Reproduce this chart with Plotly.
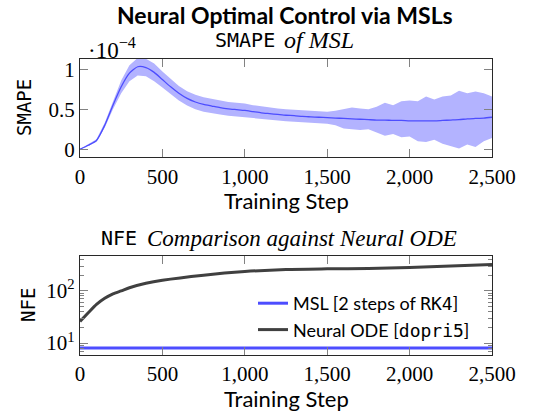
import plotly.graph_objects as go

# ---------------- data ----------------
steps = [0, 50, 100, 150, 200, 250, 300, 350, 400, 450, 500, 550, 600, 650, 700, 750,
         800, 850, 900, 950, 1000, 1050, 1100, 1150, 1200, 1250, 1300, 1350, 1400, 1450,
         1500, 1550, 1600, 1650, 1700, 1750, 1800, 1850, 1900, 1950, 2000, 2050, 2100,
         2150, 2200, 2250, 2300, 2350, 2400, 2450, 2500]
smape_mean = [0.0, 0.05, 0.11, 0.30, 0.55, 0.78, 0.95, 1.03, 1.02, 0.96, 0.87, 0.78, 0.70,
              0.635, 0.59, 0.56, 0.54, 0.52, 0.505, 0.495, 0.485, 0.47, 0.455, 0.445, 0.435,
              0.425, 0.42, 0.41, 0.405, 0.40, 0.395, 0.39, 0.385, 0.38, 0.375, 0.37, 0.365,
              0.365, 0.36, 0.36, 0.355, 0.355, 0.355, 0.355, 0.36, 0.365, 0.37, 0.38, 0.385,
              0.39, 0.40]
smape_upper = [0.004, 0.06, 0.125, 0.33, 0.60, 0.86, 1.05, 1.14, 1.13, 1.07, 0.97, 0.875,
               0.79, 0.725, 0.68, 0.65, 0.63, 0.605, 0.59, 0.58, 0.57, 0.55, 0.535, 0.525,
               0.51, 0.50, 0.495, 0.485, 0.48, 0.475, 0.47, 0.48, 0.50, 0.52, 0.51, 0.50,
               0.53, 0.58, 0.55, 0.60, 0.61, 0.60, 0.66, 0.62, 0.66, 0.67, 0.73, 0.70, 0.72,
               0.70, 0.66]
smape_lower = [-0.004, 0.04, 0.095, 0.27, 0.50, 0.70, 0.85, 0.92, 0.91, 0.85, 0.77, 0.685,
               0.61, 0.545, 0.50, 0.47, 0.45, 0.435, 0.42, 0.41, 0.40, 0.39, 0.375, 0.365,
               0.36, 0.35, 0.345, 0.335, 0.33, 0.325, 0.32, 0.30, 0.26, 0.25, 0.24, 0.25,
               0.21, 0.17, 0.19, 0.15, 0.16, 0.10, 0.09, 0.12, 0.07, 0.04, 0.01, 0.06, 0.03,
               0.10, 0.14]

nfe_steps = [0, 50, 100, 150, 200, 250, 300, 400, 500, 750, 1000, 1250, 1500, 1750, 2000,
             2250, 2500]
nfe_node = [26, 38, 55, 72, 88, 100, 115, 140, 160, 200, 235, 258, 265, 270, 280, 300, 320]
nfe_msl = [8] * len(nfe_steps)

x_ticks = [0, 500, 1000, 1500, 2000, 2500]
x_tick_text = ["0", "500", "1,000", "1,500", "2,000", "2,500"]
y1_ticks = [0, 0.5, 1]
y1_tick_text = ["0", "0.5", "1"]

# ---------------- style ----------------
BLUE = "rgb(77,77,255)"
BAND = "rgb(179,179,255)"
GREY = "rgb(64,64,64)"
SERIF = "Liberation Serif"
SANS = "Lato"
MONO = "DejaVu Sans Mono"
FRAME = "rgb(40,40,40)"
TICKC = "rgb(130,130,130)"


def mono(t):
    return "<span style=\"font-family:DejaVu Sans Mono\">%s</span>" % t


fig = go.Figure()

fig.add_trace(go.Scatter(x=steps, y=smape_upper, mode="lines", line=dict(width=0, color=BAND),
                         hoverinfo="skip", showlegend=False, xaxis="x", yaxis="y"))
fig.add_trace(go.Scatter(x=steps, y=smape_lower, mode="lines", line=dict(width=0, color=BAND),
                         fill="tonexty", fillcolor=BAND, hoverinfo="skip", showlegend=False,
                         xaxis="x", yaxis="y"))
fig.add_trace(go.Scatter(x=steps, y=smape_mean, mode="lines",
                         line=dict(width=1.3, color=BLUE, shape="spline", smoothing=0.6),
                         showlegend=False, xaxis="x", yaxis="y"))

fig.add_trace(go.Scatter(x=nfe_steps, y=nfe_msl, mode="lines", line=dict(width=3, color=BLUE),
                         name="MSL [2 steps of " + mono("RK4") + "]",
                         xaxis="x2", yaxis="y2"))
fig.add_trace(go.Scatter(x=nfe_steps, y=nfe_node, mode="lines",
                         line=dict(width=3, color=GREY, shape="spline", smoothing=0.6),
                         name="Neural ODE [" + mono("dopri5") + "]",
                         xaxis="x2", yaxis="y2"))

xdom = [80 / 543, 492 / 543]
common_x = dict(range=[0, 2500], tickvals=x_ticks, ticktext=x_tick_text, ticks="inside",
                ticklen=8, tickcolor=TICKC, showline=True, linecolor=FRAME, linewidth=1.2,
                mirror="allticks", showgrid=False, zeroline=False, automargin=False,
                tickfont=dict(family=SERIF, size=21, color="black"), domain=xdom)


def ann(text, x, y, font, **kw):
    return dict(text=text, x=x / 543, y=1 - y / 414, xref="paper", yref="paper",
                xanchor=kw.pop("xanchor", "center"), yanchor="middle", showarrow=False,
                font=font, **kw)


black = "black"
fig.update_layout(
    width=543, height=414, margin=dict(l=0, r=0, t=0, b=0, autoexpand=False),
    plot_bgcolor="white", paper_bgcolor="white",
    showlegend=True,
    xaxis=dict(common_x, anchor="y"),
    yaxis=dict(domain=[1 - 157.3 / 414, 1 - 58.5 / 414], range=[-0.1, 1.133], tickvals=y1_ticks,
               ticktext=y1_tick_text, ticks="inside", ticklen=8, tickcolor=TICKC, showline=True,
               linecolor=FRAME, linewidth=1.2, mirror="allticks", showgrid=False, zeroline=False,
               automargin=False,
               tickfont=dict(family=SERIF, size=21, color=black), anchor="x"),
    xaxis2=dict(common_x, anchor="y2"),
    yaxis2=dict(domain=[1 - 355 / 414, 1 - 256 / 414], type="log", range=[0.77, 2.67],
                tickvals=[10, 100], ticktext=["10<sup>1</sup>", "10<sup>2</sup>"],
                ticks="inside", ticklen=8, tickcolor=TICKC, showline=True, linecolor=FRAME,
                linewidth=1.2, mirror="allticks", showgrid=False, zeroline=False, automargin=False,
                minor=dict(ticks="inside", ticklen=4, tickcolor=TICKC,
                           tickvals=[6, 7, 8, 9, 20, 30, 40, 50, 60, 70, 80, 90, 200, 300, 400]),
                tickfont=dict(family=SERIF, size=21, color=black), anchor="x2"),
    legend=dict(x=475 / 543, xanchor="right", y=1 - 285 / 414, yanchor="top",
                bgcolor="rgba(0,0,0,0)", font=dict(family=SANS, size=18, color=black),
                traceorder="normal", tracegroupgap=0),
    annotations=[
        ann("<b>Neural Optimal Control via MSLs</b>", 285, 15,
            dict(family=SANS, size=23, color=black)),
        ann("SMAPE", 277, 40, dict(family=MONO, size=20, color=black), xanchor="right"),
        ann("<i>of MSL</i>", 282, 40, dict(family=SERIF, size=24, color=black), xanchor="left"),
        ann("NFE", 139, 238, dict(family=MONO, size=20, color=black), xanchor="right"),
        ann("<i>Comparison against Neural ODE</i>", 145, 238,
            dict(family=SERIF, size=23, color=black), xanchor="left"),
        ann("·10<sup>−4</sup>", 86, 49, dict(family=SERIF, size=23, color=black), xanchor="left"),
        ann("Training Step", 286, 201, dict(family=SANS, size=22, color=black)),
        ann("Training Step", 286, 398, dict(family=SANS, size=22, color=black)),
        ann("SMAPE", 24, 108, dict(family=MONO, size=19, color=black), textangle=-90),
        ann("NFE", 28, 305, dict(family=MONO, size=19, color=black), textangle=-90),
    ],
)

fig.write_html("out.html")
